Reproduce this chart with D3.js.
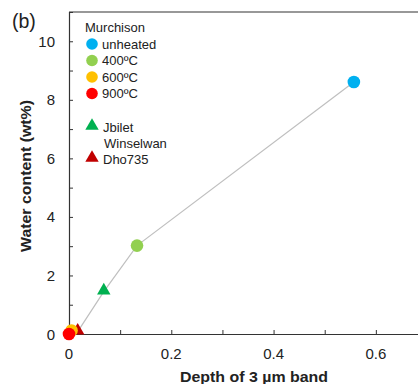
<!DOCTYPE html>
<html>
<head>
<meta charset="utf-8">
<script src="https://cdn.jsdelivr.net/npm/d3@7"></script>
<style>
  body { margin: 0; background: #fff; }
  text { font-family: "Liberation Sans", Arial, sans-serif; }
</style>
</head>
<body>
<script>
// samples: name, depth of 3 um band, water content (wt%)
const names = ["900ºC", "600ºC", "Dho735", "Jbilet Winselwan", "400ºC", "unheated"];
const depth = [0.0, 0.005, 0.017, 0.068, 0.133, 0.557];
const water = [0.0, 0.12, 0.08, 1.45, 3.02, 8.61];
const shapes = ["circle", "circle", "triangle", "triangle", "circle", "circle"];
const colors = ["#ff0000", "#ffc000", "#c00000", "#00b050", "#92d050", "#00b0f0"];

const legendMurchison = ["unheated", "400ºC", "600ºC", "900ºC"];
const legendMurchisonColors = ["#00b0f0", "#92d050", "#ffc000", "#ff0000"];

const xTicks = [0, 0.2, 0.4, 0.6];
const yTicks = [0, 2, 4, 6, 8, 10];

const width = 418, height = 384;
const svg = d3.select("body").append("svg")
    .attr("width", width)
    .attr("height", height);

const x = d3.scaleLinear().domain([0, 0.7]).range([69, 427]);
const y = d3.scaleLinear().domain([0, 11]).range([334, 12]);

// frame: top line
svg.append("line")
    .attr("x1", x(0)).attr("x2", width)
    .attr("y1", y(11)).attr("y2", y(11))
    .attr("stroke", "#333").attr("stroke-width", 1.2);

// x axis with inner ticks
const xAxis = svg.append("g").attr("transform", `translate(0,${y(0)})`);
xAxis.call(d3.axisBottom(x).tickValues(d3.range(0, 0.75, 0.1)).tickSize(-4).tickFormat(""));
xAxis.select(".domain").attr("stroke", "#333").attr("stroke-width", 1.2);
xAxis.selectAll(".tick line").attr("stroke", "#333");
xAxis.selectAll(".xl").data(xTicks).enter().append("text")
    .attr("x", d => x(d)).attr("y", 25)
    .attr("text-anchor", "middle")
    .attr("font-size", 15).attr("fill", "#222")
    .text(d => d3.format("")(d));

// y axis with inner ticks
const yAxis = svg.append("g").attr("transform", `translate(${x(0)},0)`);
yAxis.call(d3.axisLeft(y).tickValues(d3.range(0, 11, 1)).tickSize(-4).tickFormat(""));
yAxis.select(".domain").attr("stroke", "#333").attr("stroke-width", 1.2);
yAxis.selectAll(".tick line").attr("stroke", "#333");
yAxis.selectAll(".yl").data(yTicks).enter().append("text")
    .attr("x", -14).attr("y", d => y(d) + 5.5)
    .attr("text-anchor", "end")
    .attr("font-size", 15).attr("fill", "#222")
    .text(d => d);

// axis titles
svg.append("text")
    .attr("x", 254).attr("y", 382)
    .attr("text-anchor", "middle")
    .attr("font-size", 14.5).attr("font-weight", "bold").attr("fill", "#222")
    .attr("textLength", 148).attr("lengthAdjust", "spacingAndGlyphs")
    .text("Depth of 3 µm band");
svg.append("text")
    .attr("transform", "translate(31,176) rotate(-90)")
    .attr("text-anchor", "middle")
    .attr("font-size", 14.5).attr("font-weight", "bold").attr("fill", "#222")
    .attr("textLength", 152).attr("lengthAdjust", "spacingAndGlyphs")
    .text("Water content (wt%)");

// panel label
svg.append("text")
    .attr("x", 12).attr("y", 28)
    .attr("font-size", 19.5).attr("fill", "#222")
    .text("(b)");

// connecting line
const idx = d3.range(names.length).filter(i => i !== 1);
svg.append("path")
    .datum(idx)
    .attr("fill", "none")
    .attr("stroke", "#bfbfbf")
    .attr("stroke-width", 1.2)
    .attr("d", d3.line().x(i => x(depth[i])).y(i => y(water[i])));

// markers
const tri = d3.symbol().type(d3.symbolTriangle).size(78);
const order = [2, 1, 0, 3, 4, 5];
order.forEach(i => {
  if (shapes[i] === "circle") {
    svg.append("circle")
      .attr("cx", x(depth[i])).attr("cy", y(water[i]))
      .attr("r", 6.3).attr("fill", colors[i]);
  } else {
    svg.append("path")
      .attr("d", tri)
      .attr("transform", `translate(${x(depth[i])},${y(water[i]) - 1})`)
      .attr("fill", colors[i]);
  }
});

// legend
const lg = svg.append("g");
lg.append("text").attr("x", 85).attr("y", 32)
  .attr("font-size", 13).attr("fill", "#222").text("Murchison");
legendMurchison.forEach((t, k) => {
  const cy = 44 + k * 16.5;
  lg.append("circle").attr("cx", 92).attr("cy", cy).attr("r", 5.8)
    .attr("fill", legendMurchisonColors[k]);
  lg.append("text").attr("x", 102).attr("y", cy + 4.7)
    .attr("font-size", 13).attr("fill", "#222").text(t);
});
lg.append("path").attr("d", tri).attr("transform", "translate(92,126)").attr("fill", "#00b050");
lg.append("text").attr("x", 103).attr("y", 131.7).attr("font-size", 13).attr("fill", "#222").text("Jbilet");
lg.append("text").attr("x", 104).attr("y", 148.2).attr("font-size", 13).attr("fill", "#222").text("Winselwan");
lg.append("path").attr("d", tri).attr("transform", "translate(92,158)").attr("fill", "#c00000");
lg.append("text").attr("x", 103).attr("y", 163.7).attr("font-size", 13).attr("fill", "#222").text("Dho735");
</script>
</body>
</html>
